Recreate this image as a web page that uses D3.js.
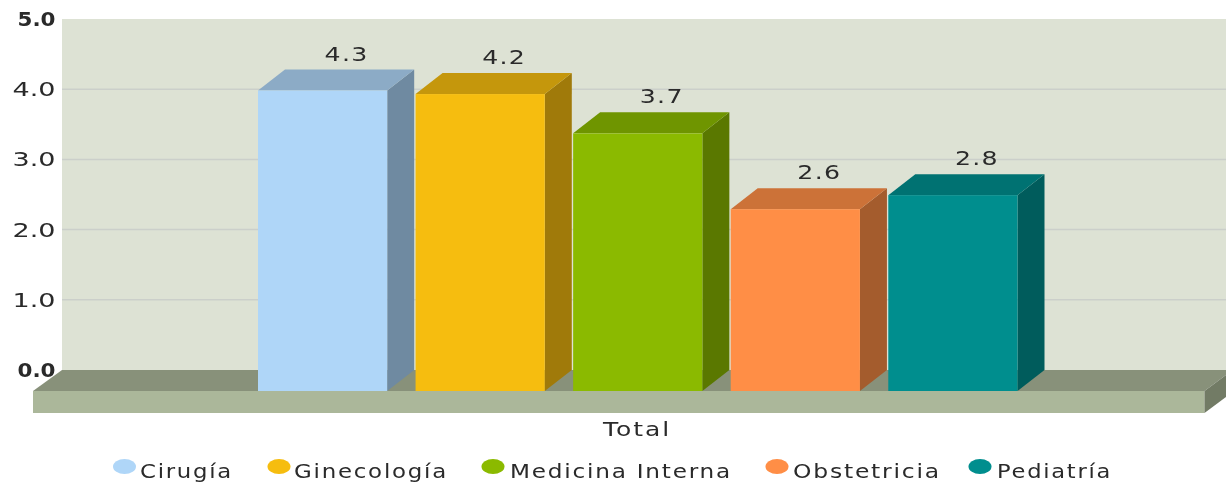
<!DOCTYPE html>
<html><head><meta charset="utf-8">
<script src="https://cdn.jsdelivr.net/npm/d3@7/dist/d3.min.js"></script>
<style>html,body{margin:0;padding:0;background:#fff}svg{display:block}text{font-family:"DejaVu Sans",sans-serif;fill:#2a2a2a}</style>
</head><body><svg id="c" width="1226" height="482"></svg>
<script>
const categories=["Cirugía","Ginecología","Medicina Interna","Obstetricia","Pediatría"];
const values=[4.28,4.23,3.67,2.59,2.79];
const valueLabels=["4.3","4.2","3.7","2.6","2.8"];
const frontColors=["#afd6f8","#f6bd0f","#8bba00","#ff8e46","#008e8e"];
const topColors=["#8cabc6","#c5970c","#6f9500","#cc7238","#007272"];
const sideColors=["#6f8aa1","#a07a0a","#5a7800","#a45c2d","#005c5c"];
const yTicks=[0,1,2,3,4,5];
const groupLabel="Total";
const legendCx=[124.5,279,493,777,980];
const legendTextX=[140,294,510,793,997];
const legendTextW=[93,154,222,148,115];

const dx=28,dy=21,fs=19.5;
const svg=d3.select("#c");
const defs=svg.append("defs");
const flt=defs.append("filter").attr("id","soft").attr("filterUnits","userSpaceOnUse").attr("x",0).attr("y",0).attr("width",1226).attr("height",482).attr("color-interpolation-filters","sRGB");
flt.append("feGaussianBlur").attr("stdDeviation",0.5);
const root=svg.append("g").attr("filter","url(#soft)");
root.append("rect").attr("width",1226).attr("height",482).attr("fill","#fff");
const y=d3.scaleLinear().domain([0,5]).range([391,40]);
const x=d3.scaleBand().domain(categories).range([258,1017.5]).paddingInner(0.18);
const poly=(pts,f)=>root.append("polygon").attr("points",pts.map(p=>p.join(",")).join(" ")).attr("fill",f);

// back wall
root.append("rect").attr("x",62).attr("y",y(5)-dy).attr("width",1164).attr("height",y(0)-y(5)).attr("fill","#dde2d4");
yTicks.slice(1,5).forEach(t=>root.append("line").attr("x1",62).attr("x2",1226)
  .attr("y1",y(t)-dy).attr("y2",y(t)-dy).attr("stroke","#cbcfca").attr("stroke-width",1.5));
// floor
const fl=33,fr=1204.5,fb=413;
poly([[fl,y(0)],[fl+dx+1,y(0)-dy],[fr+dx,y(0)-dy],[fr,y(0)]],"#88917a");
root.append("rect").attr("x",fl).attr("y",y(0)).attr("width",fr-fl).attr("height",fb-y(0)).attr("fill","#abb79a");
poly([[fr,y(0)],[fr+dx,y(0)-dy],[fr+dx,fb-dy],[fr,fb]],"#727b65");
// y axis labels
yTicks.forEach(t=>{const b=(t===0||t===5);
  root.append("text").attr("x",55.5).attr("y",y(t)-dy).attr("dy","0.36em").attr("text-anchor","end")
  .attr("font-size",fs).attr("font-weight",b?"bold":"normal").attr("textLength",b?38:43).attr("lengthAdjust","spacingAndGlyphs").text(t.toFixed(1));});
// bars
categories.forEach((c,i)=>{
  const l=x(c),w=x.bandwidth(),r=l+w,t=y(values[i]),b=y(0);
  poly([[r,t],[r+dx-1,t-dy],[r+dx-1,b-dy],[r,b]],sideColors[i]);
  poly([[l,t],[l+dx-1,t-dy],[r+dx-1,t-dy],[r,t]],topColors[i]);
  root.append("rect").attr("x",l).attr("y",t).attr("width",w).attr("height",b-t).attr("fill",frontColors[i]);
  root.append("text").attr("x",l+w/2+dx-4).attr("y",t-dy-9).attr("text-anchor","middle").attr("font-size",fs)
    .attr("letter-spacing",1).attr("textLength",44).attr("lengthAdjust","spacingAndGlyphs").text(valueLabels[i]);
});
root.append("text").attr("x",603).attr("y",436).attr("font-size",fs).attr("letter-spacing",1.5).attr("textLength",68).attr("lengthAdjust","spacingAndGlyphs").text(groupLabel);
// legend
categories.forEach((c,i)=>{
  root.append("ellipse").attr("cx",legendCx[i]).attr("cy",466.5).attr("rx",11.5).attr("ry",7.5).attr("fill",frontColors[i]);
  root.append("text").attr("x",legendTextX[i]).attr("y",477.5).attr("font-size",fs).attr("letter-spacing",1.5).attr("textLength",legendTextW[i]).attr("lengthAdjust","spacingAndGlyphs").text(c);
});
</script></body></html>
